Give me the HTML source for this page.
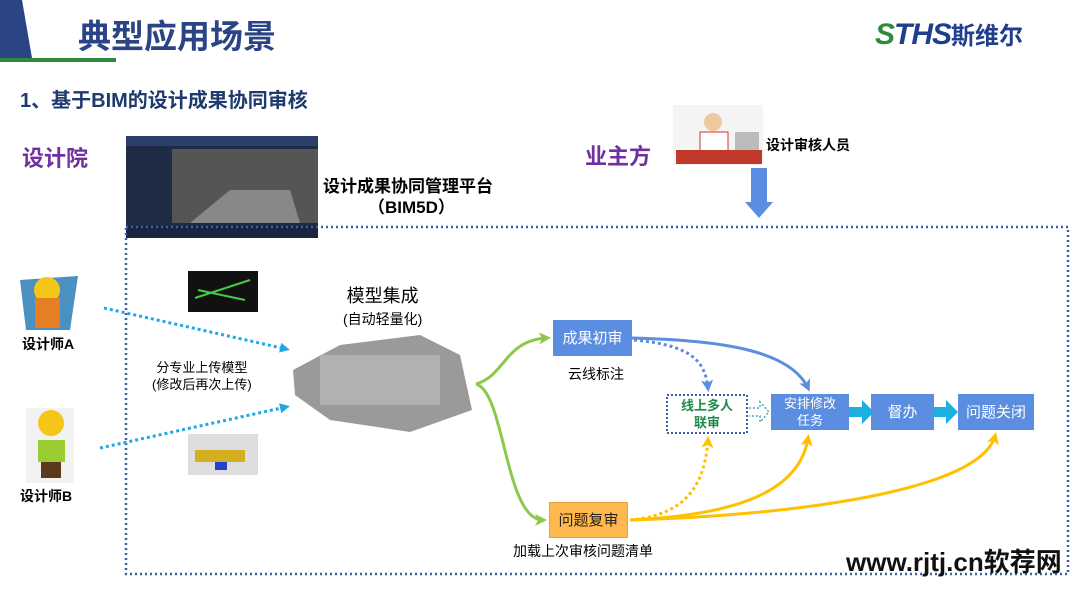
<!DOCTYPE html>
<html><head><meta charset="utf-8"><style>
body{margin:0;width:1080px;height:606px;background:#fff;position:relative;overflow:hidden;font-family:"Liberation Sans","Noto Sans CJK SC",sans-serif}
.a{position:absolute;white-space:nowrap}
.box{position:absolute;display:flex;align-items:center;justify-content:center;text-align:center;color:#fff;font-size:15px;line-height:17px}
</style></head><body>
<svg class="a" style="left:0;top:0" width="1080" height="606">
<polygon points="0,0 22,0 32,58 0,58" fill="#2b4486"/>
<rect x="0" y="58" width="116" height="4" fill="#2e8b3e"/>
<rect x="126" y="136" width="192" height="102" fill="#1f2a44"/>
<rect x="126" y="136" width="192" height="10" fill="#2a3f6a"/>
<rect x="172" y="149" width="146" height="74" fill="#555"/>
<polygon points="190,223 230,190 290,190 300,223" fill="#888"/>
<rect x="126" y="226" width="192" height="12" fill="#1a2540"/>
<rect x="673" y="105" width="90" height="60" fill="#f4f4f4"/>
<circle cx="713" cy="122" r="9" fill="#f0c8a0"/><rect x="700" y="132" width="28" height="22" fill="#fff" stroke="#c33"/>
<rect x="676" y="150" width="86" height="14" fill="#c0392b"/><rect x="735" y="132" width="24" height="18" fill="#bbb"/>
<polygon points="751,168 767,168 767,202 773,202 759,218 745,202 751,202" fill="#5b8ee0"/>
<rect x="126" y="227" width="942" height="347" fill="none" stroke="#3d5fa8" stroke-width="2.5" stroke-dasharray="2,3"/>
<polygon points="20,280 78,276 70,330 26,330" fill="#4a90c0"/>
<circle cx="47" cy="290" r="13" fill="#f5c518"/><rect x="35" y="298" width="25" height="30" fill="#e67e22"/>
<rect x="26" y="408" width="48" height="75" fill="#f2f2f2"/>
<circle cx="51" cy="423" r="13" fill="#f5c518"/><rect x="38" y="440" width="27" height="22" fill="#9acd32"/><rect x="41" y="462" width="20" height="16" fill="#5a3a1a"/>
<rect x="188" y="271" width="70" height="41" fill="#111"/><path d="M195,298 L250,280 M198,290 L245,300" stroke="#4c4" stroke-width="2"/>
<rect x="188" y="434" width="70" height="41" fill="#ddd"/><rect x="195" y="450" width="50" height="12" fill="#d4b020"/><rect x="215" y="462" width="12" height="8" fill="#2244cc"/>
<polygon points="293,370 340,345 420,335 460,355 472,410 410,432 330,420 295,395" fill="#9a9a9a"/>
<rect x="320" y="355" width="120" height="50" fill="#bbb" opacity=".7"/>
<defs>
<marker id="c" markerWidth="10" markerHeight="10" refX="6" refY="5" orient="auto" markerUnits="userSpaceOnUse"><path d="M0,0 L10,5 L0,10z" fill="#1fa8e8"/></marker>
<marker id="g" markerWidth="12" markerHeight="12" refX="8" refY="6" orient="auto" markerUnits="userSpaceOnUse"><path d="M0,0 L12,6 L0,12 L3,6z" fill="#8cc84b"/></marker>
<marker id="b" markerWidth="12" markerHeight="12" refX="8" refY="6" orient="auto" markerUnits="userSpaceOnUse"><path d="M0,0 L12,6 L0,12 L3,6z" fill="#5b8ee0"/></marker>
<marker id="y" markerWidth="12" markerHeight="12" refX="8" refY="6" orient="auto" markerUnits="userSpaceOnUse"><path d="M0,0 L12,6 L0,12 L3,6z" fill="#ffc000"/></marker>
</defs>
<line x1="104" y1="308" x2="286" y2="349" stroke="#1fa8e8" stroke-width="3" stroke-dasharray="3,3" marker-end="url(#c)"/>
<line x1="100" y1="448" x2="286" y2="407" stroke="#1fa8e8" stroke-width="3" stroke-dasharray="3,3" marker-end="url(#c)"/>
<path d="M476,384 C505,376 505,340 547,338" fill="none" stroke="#8cc84b" stroke-width="3" marker-end="url(#g)"/>
<path d="M476,384 C505,392 505,520 543,520" fill="none" stroke="#8cc84b" stroke-width="3" marker-end="url(#g)"/>
<path d="M632,338 C720,340 790,350 808,388" fill="none" stroke="#5b8ee0" stroke-width="3" marker-end="url(#b)"/>
<path d="M634,340 C690,345 705,360 708,388" fill="none" stroke="#5b8ee0" stroke-width="3" stroke-dasharray="3,3" marker-end="url(#b)"/>
<path d="M630,520 C690,515 705,480 708,440" fill="none" stroke="#ffc000" stroke-width="3" stroke-dasharray="3,3" marker-end="url(#y)"/>
<path d="M630,520 C740,515 800,490 808,438" fill="none" stroke="#ffc000" stroke-width="3" marker-end="url(#y)"/>
<path d="M630,520 C800,515 980,490 995,436" fill="none" stroke="#ffc000" stroke-width="3" marker-end="url(#y)"/>
<path d="M749,408 L760,408 L760,402 L769,412 L760,422 L760,416 L749,416" fill="none" stroke="#4aa3c8" stroke-width="1.5" stroke-dasharray="2,2"/>
<polygon points="849,407 862,407 862,400 874,412 862,424 862,417 849,417" fill="#1ab0e0"/>
<polygon points="934,407 946,407 946,400 958,412 946,424 946,417 934,417" fill="#1ab0e0"/>
<rect x="667" y="395" width="80" height="38" fill="none" stroke="#3d5fa8" stroke-width="2" stroke-dasharray="2,2"/>
</svg>
<div class="a" style="left:78px;top:10px;font-size:33px;font-weight:bold;color:#2b4486">典型应用场景</div>
<div class="a" style="left:875px;top:16px;font-size:30px;font-weight:bold;font-style:italic;color:#1f3f8a;letter-spacing:-1px"><span style="color:#2e8b3e">S</span>THS<span style="font-style:normal;font-size:24px;letter-spacing:0">斯维尔</span></div>
<div class="a" style="left:20px;top:84px;font-size:20px;font-weight:bold;color:#1f3a6e">1、基于BIM的设计成果协同审核</div>
<div class="a" style="left:22px;top:141px;font-size:22px;font-weight:bold;color:#7030a0">设计院</div>
<div class="a" style="left:585px;top:139px;font-size:22px;font-weight:bold;color:#7030a0">业主方</div>
<div class="a" style="left:323px;top:172px;font-size:17px;font-weight:bold">设计成果协同管理平台</div>
<div class="a" style="left:368px;top:193px;font-size:17px;font-weight:bold">（BIM5D）</div>
<div class="a" style="left:766px;top:135px;font-size:14px;font-weight:bold">设计审核人员</div>
<div class="a" style="left:22px;top:334px;font-size:14px;font-weight:bold">设计师A</div>
<div class="a" style="left:20px;top:486px;font-size:14px;font-weight:bold">设计师B</div>
<div class="a" style="left:152px;top:359px;font-size:13px;line-height:17px;text-align:center">分专业上传模型<br>(修改后再次上传)</div>
<div class="a" style="left:343px;top:285px;font-size:18px;line-height:22px;text-align:center">模型集成<br><span style="font-size:14px">(自动轻量化)</span></div>
<div class="box" style="left:553px;top:320px;width:79px;height:36px;background:#5b8ee0">成果初审</div>
<div class="a" style="left:568px;top:364px;font-size:14px">云线标注</div>
<div class="box" style="left:667px;top:395px;width:80px;height:38px;color:#1e8a4a;font-weight:bold;font-size:13px">线上多人<br>联审</div>
<div class="box" style="left:771px;top:394px;width:78px;height:36px;background:#5b8ee0;font-size:13px">安排修改<br>任务</div>
<div class="box" style="left:871px;top:394px;width:63px;height:36px;background:#5b8ee0">督办</div>
<div class="box" style="left:958px;top:394px;width:76px;height:36px;background:#5b8ee0">问题关闭</div>
<div class="box" style="left:549px;top:502px;width:79px;height:36px;background:#ffb84d;color:#222;border:1px solid #e8a040;box-sizing:border-box">问题复审</div>
<div class="a" style="left:513px;top:541px;font-size:14px">加载上次审核问题清单</div>
<div class="a" style="left:846px;top:542px;font-size:26px;font-weight:bold;color:#111">www.rjtj.cn软荐网</div>
</body></html>
